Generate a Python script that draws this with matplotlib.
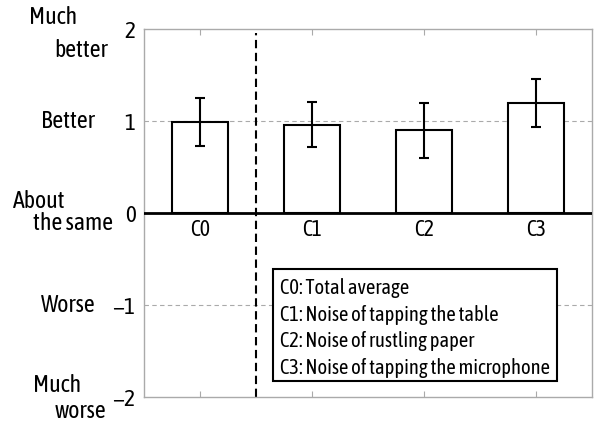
import time
import os
import matplotlib
matplotlib.use("Agg")
import matplotlib.pyplot as plt
from matplotlib.patches import Rectangle
from matplotlib import font_manager as fm
from matplotlib.font_manager import FontProperties
from matplotlib.textpath import TextPath

categories = ["C0", "C1", "C2", "C3"]
means = [0.99, 0.96, 0.90, 1.20]
errors = [0.26, 0.245, 0.30, 0.26]
ytick_values = [-2, -1, 0, 1, 2]
ytick_labels = ["\u22122", "\u22121", "0", "1", "2"]
scale_labels = [("Much", "better", 2), ("Better", None, 1), ("About", "the same", 0),
                ("Worse", None, -1), ("Much", "worse", -2)]
legend_lines = ["C0: Total average",
                "C1: Noise of tapping the table",
                "C2: Noise of rustling paper",
                "C3: Noise of tapping the microphone"]

# reference: longest legend line ~269 px wide, capital height ~14.3 px
TARGET_RATIO = 269.0 / 14.3
OK_NAMES = {"Liberation Sans Narrow", "Liberation Sans", "DejaVu Sans", "Roboto",
            "Roboto Condensed", "Open Sans", "Open Sans Condensed", "Lato", "Inter",
            "Noto Sans", "Arimo"}


def pick_font():
    t0 = time.time()
    best, best_err = None, 1e9
    seen = set()
    for f in fm.fontManager.ttflist:
        if time.time() - t0 > 20:
            break
        if f.style != "normal" or f.weight not in (400, "normal", "regular", "book"):
            continue
        path = f.fname
        low = path.lower()
        if f.name not in OK_NAMES and not (("narrow" in low or "condensed" in low)
                                            and "mono" not in low and "cjk" not in low):
            continue
        if path in seen or path.endswith(".ttc"):
            continue
        seen.add(path)
        try:
            if os.path.getsize(path) > 3_000_000:
                continue
            prop = FontProperties(fname=path)
            w = TextPath((0, 0), legend_lines[3], size=50, prop=prop).get_extents().width
            h = TextPath((0, 0), "H", size=50, prop=prop).get_extents().height
        except Exception:
            continue
        if h <= 0:
            continue
        err = abs(w / h - TARGET_RATIO)
        if err < best_err:
            best_err, best = err, path
    if best is None:
        return FontProperties(family=["DejaVu Sans"])
    return FontProperties(fname=best)


base_fp = pick_font()

W, H = 596, 424
fig = plt.figure(figsize=(W / 100, H / 100), dpi=100)
renderer = fig.canvas.get_renderer()


def fp(size):
    p = base_fp.copy()
    p.set_size(size)
    return p


def size_for_width(text, target_px, ref=14.0):
    probe = fig.text(0, 0, text, fontproperties=fp(ref))
    wpx = probe.get_window_extent(renderer).width
    probe.remove()
    return ref * target_px / wpx


fs_leg = size_for_width(legend_lines[3], 270)
fs_lab = size_for_width("the same", 80)
fs_tick = size_for_width("\u22121", 23)
fs_cat = size_for_width("C0", 20)

ax = fig.add_axes([144 / W, 1 - 397 / H, 448 / W, 368 / H])

x = list(range(1, len(categories) + 1))
ax.bar(x, means, width=0.5, color="white", edgecolor="black", linewidth=1.5, zorder=3)
ax.errorbar(x, means, yerr=errors, fmt="none", ecolor="black", elinewidth=1.5,
            capsize=3.5, capthick=1.5, zorder=4)

ax.set_xlim(0.5, 4.5)
ax.set_ylim(-2, 2)

for v in (1, -1):
    ax.axhline(v, color="#aaaaaa", linestyle=(0, (4, 3)), linewidth=0.8, zorder=1)
ax.axhline(0, color="black", linewidth=2, zorder=5)
ax.axvline(1.5, color="black", linestyle=(0, (4, 2.2)), linewidth=1.5, ymin=0.0, ymax=0.99, zorder=2)

for s in ax.spines.values():
    s.set_color("#aaaaaa")
    s.set_linewidth(1.0)

ax.set_xticks(x)
ax.set_xticklabels([])
ax.tick_params(axis="x", direction="in", top=True, bottom=True, length=4, color="#aaaaaa")
ax.set_yticks(ytick_values)
ax.set_yticklabels(ytick_labels)
for t in ax.get_yticklabels():
    t.set_fontproperties(fp(fs_tick))
ax.tick_params(axis="y", length=0, pad=6)

for xi, c in zip(x, categories):
    ax.text(xi, -0.19, c, ha="center", va="center", fontproperties=fp(fs_cat))

ax.add_patch(Rectangle((0.288, -1.826), 0.922 - 0.288, 1.826 - 0.609,
                       transform=ax.get_yaxis_transform(), facecolor="white",
                       edgecolor="black", linewidth=1.5, zorder=6))
for i, line in enumerate(legend_lines):
    ax.text(0.304, -0.815 - i * 0.29, line, transform=ax.get_yaxis_transform(),
            ha="left", va="center", fontproperties=fp(fs_leg), zorder=7)

label_pos = {
    2: [(29, 24), (54, 57)],
    1: [(41, 128)],
    0: [(13, 208), (33, 230)],
    -1: [(41, 312)],
    -2: [(33, 392), (55, 418)],
}
for l1, l2, v in scale_labels:
    pos = label_pos[v]
    fig.text(pos[0][0] / W, 1 - pos[0][1] / H, l1, ha="left", va="baseline", fontproperties=fp(fs_lab))
    if l2:
        fig.text(pos[1][0] / W, 1 - pos[1][1] / H, l2, ha="left", va="baseline", fontproperties=fp(fs_lab))

fig.savefig("out.png", dpi=100)
